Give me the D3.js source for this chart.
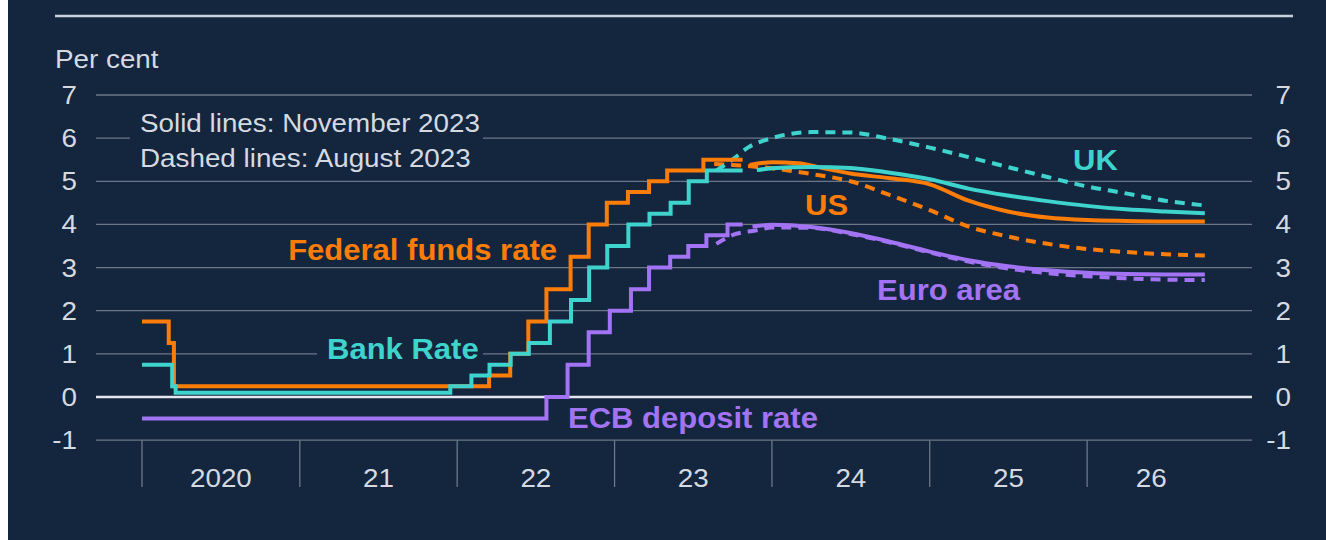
<!DOCTYPE html>
<html>
<head>
<meta charset="utf-8">
<script src="https://cdn.jsdelivr.net/npm/d3@7"></script>
<style>
  html, body { margin: 0; padding: 0; background: #ffffff; }
  svg { display: block; }
  text { font-family: "Liberation Sans", Arial, sans-serif; }
</style>
</head>
<body>
<div id="chart"></div>
<script>
// ---- data ----
const yTicks = [-1, 0, 1, 2, 3, 4, 5, 6, 7];
const yearTicks = ["2020", "2021", "2022", "2023", "2024", "2025", "2026"];
const yearLabels = ["2020", "21", "22", "23", "24", "25", "26"];

// policy rates, step changes [date, rate]
const fedFunds = [
  ["2020-01-01", 1.75], ["2020-03-03", 1.25], ["2020-03-15", 0.25],
  ["2022-03-16", 0.5], ["2022-05-04", 1.0], ["2022-06-15", 1.75],
  ["2022-07-27", 2.5], ["2022-09-21", 3.25], ["2022-11-02", 4.0],
  ["2022-12-14", 4.5], ["2023-02-01", 4.75], ["2023-03-22", 5.0],
  ["2023-05-03", 5.25], ["2023-07-26", 5.5], ["2023-10-25", 5.5]
];
const bankRate = [
  ["2020-01-01", 0.75], ["2020-03-11", 0.25], ["2020-03-19", 0.1],
  ["2021-12-16", 0.25], ["2022-02-03", 0.5], ["2022-03-17", 0.75],
  ["2022-05-05", 1.0], ["2022-06-16", 1.25], ["2022-08-04", 1.75],
  ["2022-09-22", 2.25], ["2022-11-03", 3.0], ["2022-12-15", 3.5],
  ["2023-02-02", 4.0], ["2023-03-23", 4.25], ["2023-05-11", 4.5],
  ["2023-06-22", 5.0], ["2023-08-03", 5.25], ["2023-10-25", 5.25]
];
const ecbDeposit = [
  ["2020-01-01", -0.5], ["2022-07-27", 0.0], ["2022-09-14", 0.75],
  ["2022-11-02", 1.5], ["2022-12-21", 2.0], ["2023-02-08", 2.5],
  ["2023-03-22", 3.0], ["2023-05-10", 3.25], ["2023-06-21", 3.5],
  ["2023-08-02", 3.75], ["2023-09-20", 4.0], ["2023-10-25", 4.0]
];

// market-implied paths, November 2023 (solid)
const ukNov = [
  ["2023-11-27", 5.26], ["2024-01-01", 5.3], ["2024-04-01", 5.33], ["2024-07-01", 5.31],
  ["2024-10-01", 5.2], ["2025-01-01", 5.05], ["2025-04-01", 4.83], ["2025-07-01", 4.67],
  ["2025-10-01", 4.54], ["2026-01-01", 4.43], ["2026-04-01", 4.35], ["2026-07-01", 4.3],
  ["2026-10-01", 4.26]
];
const usNov = [
  ["2023-11-10", 5.38], ["2024-01-01", 5.44], ["2024-03-01", 5.42], ["2024-05-01", 5.3],
  ["2024-07-01", 5.18], ["2024-10-01", 5.07], ["2025-01-01", 4.93], ["2025-04-01", 4.55],
  ["2025-07-01", 4.3], ["2025-10-01", 4.16], ["2026-01-01", 4.1], ["2026-04-01", 4.08],
  ["2026-07-01", 4.07], ["2026-10-01", 4.07]
];
const euNov = [
  ["2023-11-17", 3.95], ["2024-01-01", 3.99], ["2024-04-01", 3.94], ["2024-07-01", 3.8],
  ["2024-10-01", 3.6], ["2025-01-01", 3.37], ["2025-04-01", 3.17], ["2025-07-01", 3.03],
  ["2025-10-01", 2.94], ["2026-01-01", 2.88], ["2026-04-01", 2.85], ["2026-07-01", 2.84],
  ["2026-10-01", 2.84]
];

// market-implied paths, August 2023 (dashed)
const ukAug = [
  ["2023-08-25", 5.25], ["2023-10-01", 5.5], ["2023-11-06", 5.78], ["2024-01-01", 6.0],
  ["2024-04-01", 6.14], ["2024-07-01", 6.13], ["2024-10-01", 5.98], ["2025-01-01", 5.78],
  ["2025-04-01", 5.56], ["2025-07-01", 5.33], ["2025-10-01", 5.1], ["2026-01-01", 4.88],
  ["2026-04-01", 4.72], ["2026-07-01", 4.55], ["2026-10-01", 4.44]
];
const usAug = [
  ["2023-08-20", 5.4], ["2023-10-01", 5.38], ["2024-01-01", 5.3], ["2024-04-01", 5.17],
  ["2024-07-01", 5.0], ["2024-10-01", 4.68], ["2025-01-01", 4.33], ["2025-04-01", 3.95],
  ["2025-07-01", 3.72], ["2025-10-01", 3.55], ["2026-01-01", 3.43], ["2026-04-01", 3.36],
  ["2026-07-01", 3.31], ["2026-10-01", 3.28]
];
const euAug = [
  ["2023-08-25", 3.55], ["2023-10-01", 3.75], ["2023-11-24", 3.86], ["2024-01-01", 3.93],
  ["2024-04-01", 3.92], ["2024-07-01", 3.78], ["2024-10-01", 3.58], ["2025-01-01", 3.35],
  ["2025-04-01", 3.14], ["2025-07-01", 2.98], ["2025-10-01", 2.87], ["2026-01-01", 2.8],
  ["2026-04-01", 2.75], ["2026-07-01", 2.72], ["2026-10-01", 2.71]
];

// ---- setup ----
const W = 1326, H = 540;
const col = { orange: "#fb7d08", teal: "#3fd3cd", purple: "#a274f4",
              bg: "#14253e", grid: "#6c7888", text: "#d5dae1" };
const STRETCH = 1.07;
const parse = d3.timeParse("%Y-%m-%d");

const svg = d3.select("#chart").append("svg")
  .attr("width", W).attr("height", H);

svg.append("rect").attr("x", 8).attr("y", 0)
  .attr("width", W - 8).attr("height", H).attr("fill", col.bg);

const x = d3.scaleTime()
  .domain([parse("2020-01-01"), parse("2027-01-01")])
  .range([142, 142 + 7 * 157.5]);
const y = d3.scaleLinear().domain([0, 7]).range([397, 95]);
const axisEnd = parse("2026-10-25");

// text helper: slightly wide type like the reference
function label(sel, str, px, py, opts = {}) {
  return sel.append("text")
    .attr("transform", `translate(${px},${py}) scale(${STRETCH},1)`)
    .attr("text-anchor", opts.anchor || "start")
    .attr("font-size", opts.size || 26)
    .attr("font-weight", opts.bold ? "bold" : "normal")
    .attr("fill", opts.fill || col.text)
    .text(str);
}

// top rule
svg.append("line").attr("x1", 55).attr("x2", 1293).attr("y1", 16).attr("y2", 16)
  .attr("stroke", "#c9d1dc").attr("stroke-width", 2.5);

label(svg, "Per cent", 55, 68);

// gridlines + y labels on both sides
const grid = svg.append("g");
grid.selectAll("line").data(yTicks).join("line")
  .attr("x1", 96).attr("x2", 1252)
  .attr("y1", d => y(d)).attr("y2", d => y(d))
  .attr("stroke", d => d === 0 ? "#e4e8ee" : col.grid)
  .attr("stroke-width", d => d === 0 ? 2.5 : 1.3);

yTicks.forEach(d => {
  label(grid, d, 77, y(d) + 9, { anchor: "end" });
  label(grid, d, 1291, y(d) + 9, { anchor: "end" });
});

// x axis: year dividers and centred labels
const xg = svg.append("g");
xg.selectAll("line").data(yearTicks).join("line")
  .attr("x1", d => x(parse(d + "-01-01"))).attr("x2", d => x(parse(d + "-01-01")))
  .attr("y1", y(-1)).attr("y2", 487)
  .attr("stroke", col.grid).attr("stroke-width", 1.3);

yearTicks.forEach((d, i) => {
  const a = parse(d + "-01-01");
  const b = d3.min([parse((+d + 1) + "-01-01"), axisEnd]);
  label(xg, yearLabels[i], (x(a) + x(b)) / 2, 487, { anchor: "middle" });
});

// annotation box (hides the 6 gridline behind it)
svg.append("rect").attr("x", 130).attr("y", 105).attr("width", 353).attr("height", 66)
  .attr("fill", col.bg);
label(svg, "Solid lines: November 2023", 140, 132);
label(svg, "Dashed lines: August 2023", 140, 167);

// ---- lines ----
const toPts = arr => arr.map(([d, v]) => [parse(d), v]);
const stepLine = d3.line().x(d => x(d[0])).y(d => y(d[1])).curve(d3.curveStepAfter);
const smoothLine = d3.line().x(d => x(d[0])).y(d => y(d[1])).curve(d3.curveMonotoneX);

const lines = svg.append("g").attr("fill", "none").attr("stroke-width", 4);

const series = [
  { data: euAug, c: col.purple, dash: true },
  { data: usAug, c: col.orange, dash: true },
  { data: ukAug, c: col.teal, dash: true },
  { data: ecbDeposit, c: col.purple, step: true },
  { data: fedFunds, c: col.orange, step: true },
  { data: bankRate, c: col.teal, step: true },
  { data: euNov, c: col.purple },
  { data: usNov, c: col.orange },
  { data: ukNov, c: col.teal }
];

lines.selectAll("path").data(series).join("path")
  .attr("d", s => (s.step ? stepLine : smoothLine)(toPts(s.data)))
  .attr("stroke", s => s.c)
  .attr("stroke-dasharray", s => s.dash ? "10,7" : null);

// ---- series labels ----
svg.append("rect").attr("x", 317).attr("y", 338).attr("width", 166).attr("height", 26)
  .attr("fill", col.bg);
label(svg, "Federal funds rate", 557, 260, { anchor: "end", bold: true, size: 29, fill: col.orange });
label(svg, "Bank Rate", 327, 359, { bold: true, size: 29, fill: col.teal });
label(svg, "ECB deposit rate", 568, 428, { bold: true, size: 29, fill: col.purple });
label(svg, "UK", 1073, 170, { bold: true, size: 29, fill: col.teal });
label(svg, "US", 805, 215, { bold: true, size: 29, fill: col.orange });
label(svg, "Euro area", 877, 300, { bold: true, size: 29, fill: col.purple });
</script>
</body>
</html>
